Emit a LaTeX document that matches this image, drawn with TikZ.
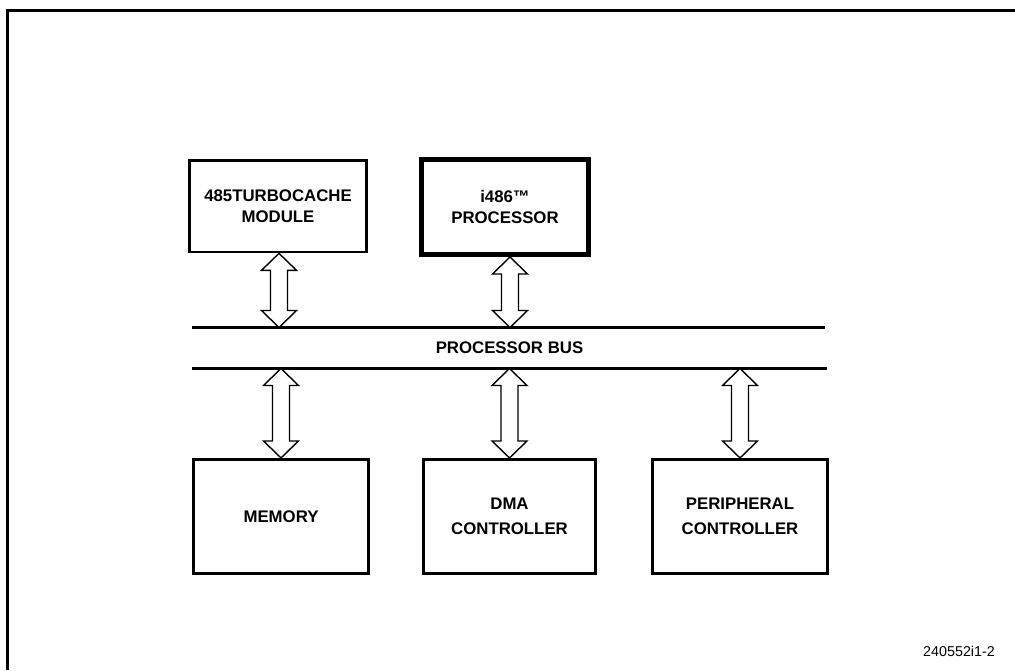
\documentclass[tikz,border=0pt]{standalone}
\usepackage{fontspec}
\setmainfont{Liberation Sans}
\usepackage{tikz}
\usetikzlibrary{calc}

\begin{document}
\begin{tikzpicture}[x=1pt,y=-1pt,unit/.style={draw,line width=2.6pt,inner sep=0pt,align=center,font=\bfseries\fontsize{16.8}{20.5}\selectfont},cpubox/.style={unit,line width=5pt},bus/.style={line width=3pt},busarrow/.style={draw,fill=white,line width=1.4pt,line join=miter,to path={let \p1=(\tikztostart),\p2=(\tikztotarget) in -- (\x1+17.5pt,\y1-17pt) -- (\x1+8.5pt,\y1-17pt) -- (\x1+8.5pt,\y2+17pt) -- (\x1+17.5pt,\y2+17pt) -- (\x1,\y2) -- (\x1-17.5pt,\y2+17pt) -- (\x1-8.5pt,\y2+17pt) -- (\x1-8.5pt,\y1-17pt) -- (\x1-17.5pt,\y1-17pt) -- cycle}}]
\useasboundingbox (0,0) rectangle (1015,670);
\draw[line width=3pt] (7.5,670) -- (7.5,10.5) -- (1015,10.5);
\node[unit,minimum width=177.5pt,minimum height=91.5pt] (tc) at (278,206.3) {485TURBOCACHE\\MODULE};
\node[cpubox,minimum width=167pt,minimum height=95pt] (cpu) at (505,207) {i486™\\PROCESSOR};
\draw[bus] (192,327.5) coordinate (upL) -- (825,327.5) coordinate (upR);
\draw[bus] (192,368.5) coordinate (loL) -- (827,368.5) coordinate (loR);
\node[font=\bfseries\fontsize{16.8}{20}\selectfont] (busname) at (509.5,347.5) {PROCESSOR BUS};
\coordinate (tcout) at ([xshift=1pt]tc.south);
\coordinate (tcbus) at (tcout |- upL);
\coordinate (cpuout) at ([xshift=5pt]cpu.south);
\coordinate (cpubus) at (cpuout |- upL);
\draw[busarrow] (tcout) to (tcbus);
\draw[busarrow] (cpuout) to (cpubus);
\foreach \b/\x/\w/\t in {mem/281/175.5/MEMORY,dma/509.5/172.5/{DMA\\CONTROLLER},per/740/175.5/{PERIPHERAL\\CONTROLLER}}{
   \node[unit,minimum width=\w pt,minimum height=114.5pt,font=\bfseries\fontsize{16.8}{25}\selectfont] (\b) at (\x,516.5) {\t};
   \coordinate (\b bus) at (\b.north |- loL);
   \draw[busarrow] (\b bus) to (\b.north);
}
\node[anchor=base east,inner sep=0pt,font=\fontsize{14.3}{16}\selectfont] (fignum) at (995,656) {240552i1-2};
\end{tikzpicture}
\end{document}
